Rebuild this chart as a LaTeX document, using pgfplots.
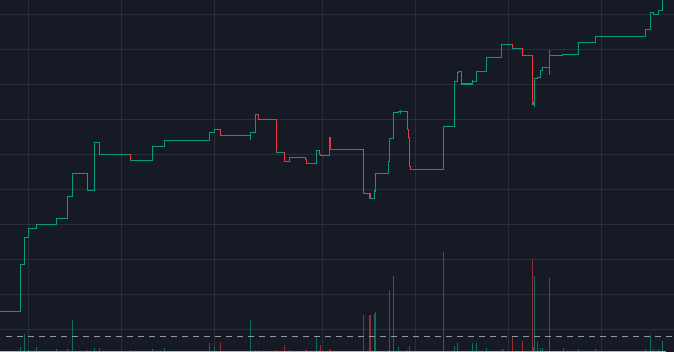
\documentclass[border=0pt]{standalone}
\usepackage{pgfplots}
\pgfplotsset{compat=1.18}
\definecolor{bg}{HTML}{161A25}
\definecolor{gridc}{HTML}{2A2E39}
\definecolor{up}{HTML}{089981}
\definecolor{dn}{HTML}{F23645}
\definecolor{vup}{HTML}{0F6D60}
\definecolor{vdn}{HTML}{962B38}
\definecolor{dashc}{HTML}{9598A1}
\definecolor{basec}{HTML}{B2B5BE}
\begin{document}
\begin{tikzpicture}
\begin{axis}[
  width=505.5pt, height=264pt, scale only axis,
  xmin=0, xmax=674, ymin=0, ymax=352,
  axis background/.style={fill=bg},
  axis line style={draw=none},
  xtick={28.3,121.3,214.3,322.3,415.3,508.3,601.3},
  ytick={22.7,57.7,92.7,127.7,162.7,197.7,232.7,267.7,302.7,337.7},
  xticklabels={}, yticklabels={},
  major tick length=0pt,
  grid=major,
  major grid style={draw=gridc, line width=0.75pt},
  unbounded coords=jump,
  clip=true,
]
% volume bars (up)
\addplot[ycomb, vup, line width=0.9pt, mark=none] coordinates {
(20.7,5) (24.3,18) (28.3,2.3) (36.3,5) (56.3,3.3) (67.3,3.3) (72.3,32)
(94.7,4) (152.3,3.3) (164.3,4.3) (209.3,9.3) (214.3,5) (250.3,32)
(255.3,2.3) (289.3,2.3) (316.3,15.3) (329.3,2.3) (374.3,38) (375.3,40)
(388.3,2.3) (389.3,62) (393.3,76) (398.3,5) (443.3,100) (454.3,6)
(457.3,9) (472.3,9) (476.3,9) (486.3,4) (501.3,3.3) (534.3,76)
(537.3,10) (540.3,4) (542.3,4) (549.3,74) (563.3,4) (578.3,3.3)
(595.3,3.3) (645.3,3.3) (650.3,17) (658.3,3.3) (662.3,11)
};
% volume bars (down)
\addplot[ycomb, vdn, line width=0.9pt, mark=none] coordinates {
(87.3,2.3) (99.3,4) (130.3,2.3) (220.3,10.3) (258.3,2.3) (276.3,2.3)
(284.3,7.3) (305.3,2.3) (306.3,2.3) (319.3,2.3) (320.3,7.3) (330.3,3.3)
(363.3,37) (370,37) (407.3,2.3) (409.3,6) (503.3,3.3) (512.3,15.3)
(522.3,11) (532.3,93) (533.3,5) (653.3,3.3)
};
% dashed reference line
\addplot[dashc, line width=0.9pt, dash pattern=on 4.5pt off 3.75pt, mark=none]
  coordinates {(6,15.7) (674,15.7)};
% step price line
\addplot[const plot, up, line width=0.9pt, mark=none] coordinates {
(0,40.7) (20.7,87.7) (24.3,114.7) (28.3,123.7) (36.3,127.7) (56.3,133.7)
(67.3,155.7) (72.3,178.7) (87.3,161.7) (94.7,209.7) (99.3,197.7)
(130.3,191.7) (152.3,205.7) (164.3,211.7) (209.3,219.7) (214.3,222.7)
(220.3,216.7) (250.3,219.7) (255.3,237.7) (258.3,232.7) (276.3,199.7)
(284.3,190.7) (289.3,194.7) (305.3,192.7) (306.3,188.7) (316.3,201.7)
(319.3,197.7) (320.3,196.7) (329.3,214.7) (330.3,202.7) (363.3,158.7)
(370,153.7) (374.3,161) (375.3,178.7) (388.3,190.3) (389.3,213.7)
(393.3,239.7) (398.3,240.7) (407.3,222.7) (408.3,214.7) (409.3,185.7)
(410.3,182.7) (443.3,225.7) (454.3,270.7) (457.3,279.7) (458.3,280.7)
(461.3,268) (472.3,270.7) (476.3,280.7) (486.3,294.7) (501.3,307.7)
(512.3,303.7) (522.3,296.7) (532.3,247.7) (533.3,249.7) (534.3,273.7)
(537.3,274.7) (540.3,281.7) (542.3,284.7) (549.3,296.7) (562.7,297.7)
(578.3,309.7) (595.3,315.7) (645.3,322.7) (650.3,339.7) (653.3,337.7)
(658.3,341.7) (662.3,360) (674,360)
};
% wicks
\addplot[up, line width=0.9pt, mark=none] coordinates {
(250.3,219.7) (250.3,212.3) (250.3,nan)
(400.3,242) (400.3,238.3) (400.3,nan)
(472.3,272) (472.3,267.3) (472.3,nan)
(549.3,302) (549.3,277.3) (549.3,nan)
(534.3,249.7) (534.3,245.3)
};
% falling segments
\addplot[dn, line width=0.9pt, mark=none] coordinates {
(87.3,178.7) (87.3,161.7) (87.3,nan)
(99.3,209.7) (99.3,197.7) (99.3,nan)
(130.3,197.7) (130.3,191.7) (130.3,nan)
(220.3,222.7) (220.3,216.7) (220.3,nan)
(258.3,237.7) (258.3,232.7) (258.3,nan)
(276.3,232.7) (276.3,199.7) (276.3,nan)
(284.3,199.7) (284.3,190.7) (284.3,nan)
(305.3,194.7) (305.3,192.7) (305.3,nan)
(306.3,192.7) (306.3,188.7) (306.3,nan)
(319.3,201.7) (319.3,197.7) (319.3,nan)
(320.3,197.7) (320.3,196.7) (320.3,nan)
(330.3,214.7) (330.3,202.7) (330.3,nan)
(363.3,202.7) (363.3,158.7) (363.3,nan)
(370,158.7) (370,153.7) (370,nan)
(407.3,240.7) (407.3,222.7) (407.3,nan)
(408.3,222.7) (408.3,214.7) (408.3,nan)
(409.3,214.7) (409.3,185.7) (409.3,nan)
(410.3,185.7) (410.3,182.7) (410.3,nan)
(461.3,280.7) (461.3,268) (461.3,nan)
(512.3,307.7) (512.3,303.7) (512.3,nan)
(522.3,303.7) (522.3,296.7) (522.3,nan)
(532.3,296.7) (532.3,247.7) (532.3,nan)
(653.3,339.7) (653.3,337.7)
};
% bottom baseline
\addplot[basec, line width=0.75pt, mark=none] coordinates {(0,0.6) (666,0.6)};
\end{axis}
\pgfresetboundingbox
\useasboundingbox (0,0) rectangle (505.5pt,264pt);
\end{tikzpicture}
\end{document}
